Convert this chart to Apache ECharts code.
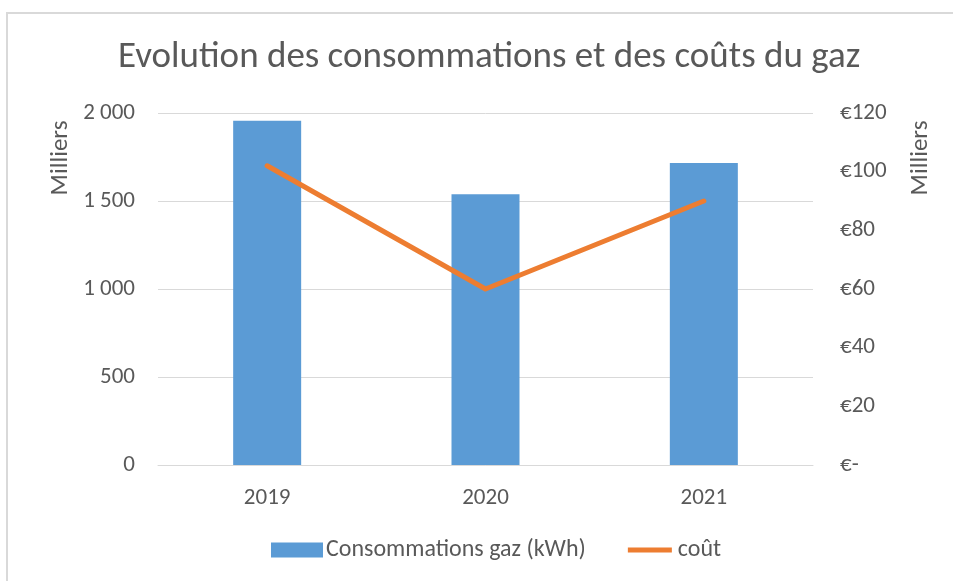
<!DOCTYPE html>
<html lang="fr">

<head>
    <meta charset="UTF-8">
    <title>Evolution gaz</title>
    <script src="https://cdn.jsdelivr.net/npm/echarts@6.0.0/dist/echarts.min.js"></script>
    <style>
        html, body { margin: 0; padding: 0; background: #fff; }
    </style>
</head>

<body>
    <div id="main" style="width: 953px; height: 581px;"></div>
    <script>
        var years = ['2019', '2020', '2021'];
        // consommation (milliers de kWh)
        var conso = [1956, 1538, 1716];
        // coût (milliers d'euros)
        var cout = [102, 60, 90];

        var FONT = 'Carlito, "Liberation Sans Narrow", "Open Sans", sans-serif';
        var TXT = '#595959';

        var chartDom = document.getElementById('main');
        var myChart = echarts.init(chartDom);
        var option;

        function spaceThousands(v) {
            return String(v).replace(/\B(?=(\d{3})+(?!\d))/g, ' ');
        }

        option = {
            animation: false,
            textStyle: { fontFamily: FONT },
            title: {
                text: 'Evolution des consommations et des coûts du gaz',
                left: 113,
                top: 34,
                textStyle: { fontFamily: FONT, fontSize: 37, fontWeight: 'normal', color: TXT }
            },
            graphic: [
                {
                    type: 'rect',
                    shape: { x: 7, y: 13, width: 960, height: 580 },
                    style: { fill: 'none', stroke: '#d9d9d9', lineWidth: 2 },
                    silent: true
                },
                {
                    type: 'text', x: 61, y: 158, rotation: Math.PI / 2,
                    style: { text: 'Milliers', fill: TXT, font: '25px ' + FONT, align: 'center', verticalAlign: 'middle' }
                },
                {
                    type: 'text', x: 921, y: 158, rotation: Math.PI / 2,
                    style: { text: 'Milliers', fill: TXT, font: '25px ' + FONT, align: 'center', verticalAlign: 'middle' }
                }
            ],
            legend: {
                bottom: 14,
                left: 266,
                itemWidth: 52,
                itemHeight: 15,
                itemGap: 40,
                textStyle: { fontFamily: FONT, fontSize: 24, color: TXT, padding: [0, 0, 0, -2] },
                data: [
                    { name: 'Consommations gaz (kWh)', icon: 'rect' },
                    {
                        name: 'coût',
                        icon: 'path://M0,0L0.01,0M2,5L46,5L46,10L2,10ZM0,15L0.01,15',
                        itemStyle: { color: '#ed7d31' }
                    }
                ]
            },
            grid: { left: 158, right: 140, top: 113, bottom: 116 },
            xAxis: {
                type: 'category',
                data: years,
                axisTick: { show: false },
                axisLine: { lineStyle: { color: '#d9d9d9', width: 1 } },
                axisLabel: { color: TXT, fontSize: 23, fontFamily: FONT, margin: 22 }
            },
            yAxis: [
                {
                    type: 'value',
                    min: 0, max: 2000, interval: 500,
                    axisLine: { show: false },
                    axisTick: { show: false },
                    splitLine: { lineStyle: { color: '#d9d9d9', width: 1 } },
                    axisLabel: {
                        color: TXT, fontSize: 23, fontFamily: FONT, margin: 23,
                        formatter: function (v) { return spaceThousands(v); }
                    }
                },
                {
                    type: 'value',
                    min: 0, max: 120, interval: 20,
                    axisLine: { show: false },
                    axisTick: { show: false },
                    splitLine: { show: false },
                    axisLabel: {
                        color: TXT, fontSize: 23, fontFamily: FONT, margin: 27, align: 'left',
                        formatter: function (v) { return v === 0 ? '€-' : '€' + v; }
                    }
                }
            ],
            series: [
                {
                    name: 'Consommations gaz (kWh)',
                    type: 'bar',
                    data: conso,
                    barWidth: 68,
                    itemStyle: { color: '#5b9bd5' }
                },
                {
                    name: 'coût',
                    type: 'line',
                    yAxisIndex: 1,
                    data: cout,
                    symbol: 'none',
                    showSymbol: false,
                    lineStyle: { color: '#ed7d31', width: 5, cap: 'round', join: 'round' },
                    itemStyle: { color: '#ed7d31' }
                }
            ]
        };

        option && myChart.setOption(option);
    </script>
</body>

</html>
